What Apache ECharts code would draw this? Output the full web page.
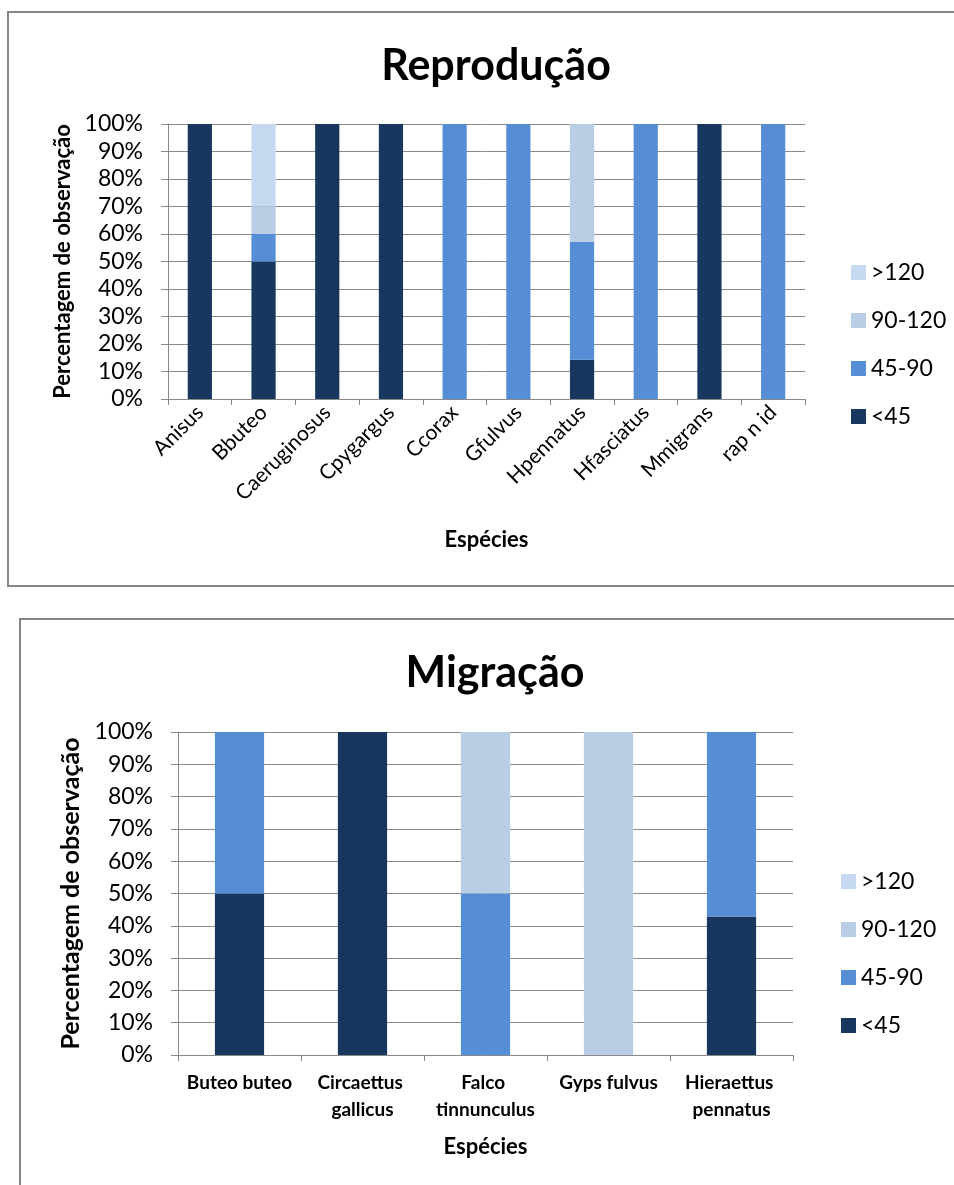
<!DOCTYPE html>
<html>
<head>
<meta charset="utf-8">
<script src="https://cdn.jsdelivr.net/npm/echarts@6/dist/echarts.min.js"></script>
<style>
  html, body { margin: 0; padding: 0; background: #ffffff; }
  #chart { width: 954px; height: 1185px; }
</style>
</head>
<body>
<div id="chart"></div>
<script>
// Breeding season (Reprodução): share of observations per flight-height class
const reproCategories = ['Anisus', 'Bbuteo', 'Caeruginosus', 'Cpygargus', 'Ccorax', 'Gfulvus', 'Hpennatus', 'Hfasciatus', 'Mmigrans', 'rap n id'];
const reproLt45     = [100, 50, 100, 100,   0,   0, 14.29,   0, 100,   0];
const repro45to90   = [  0, 10,   0,   0, 100, 100, 42.86, 100,   0, 100];
const repro90to120  = [  0, 10,   0,   0,   0,   0, 42.86,   0,   0,   0];
const reproGt120    = [  0, 30,   0,   0,   0,   0,  0,      0,   0,   0];

// Migration season (Migração)
const migCategories = ['Buteo buteo', 'Circaettus gallicus', 'Falco tinnunculus', 'Gyps fulvus', 'Hieraettus pennatus'];
const migLt45    = [50, 100,  0,   0, 42.86];
const mig45to90  = [50,   0, 50,   0, 57.14];
const mig90to120 = [ 0,   0, 50, 100,  0];
const migGt120   = [ 0,   0,  0,   0,  0];

const classNames = ['<45', '45-90', '90-120', '>120'];
const legendOrder = ['>120', '90-120', '45-90', '<45'];
const yTicks = { min: 0, max: 100, interval: 10 };

const FONT = 'Lato';
const colors = { '<45': '#17375E', '45-90': '#558ED5', '90-120': '#B9CDE5', '>120': '#C6D9F1' };
const gridGray = '#8a8a8a';

function yAxisCfg(gridIndex, nameSize, nameGap) {
  return {
    type: 'value', gridIndex: gridIndex,
    min: yTicks.min, max: yTicks.max, interval: yTicks.interval,
    name: 'Percentagem de observação',
    nameLocation: 'middle', nameRotate: 90, nameGap: nameGap,
    nameTextStyle: { fontFamily: FONT, fontWeight: 'bold', fontSize: nameSize, color: '#000' },
    axisLine: { show: true, lineStyle: { color: gridGray, width: 1 } },
    axisTick: { show: true, length: 7, lineStyle: { color: gridGray } },
    axisLabel: { formatter: '{value}%', fontFamily: FONT, fontSize: 23, color: '#000', margin: 25 },
    splitLine: { show: true, lineStyle: { color: gridGray, width: 1 } }
  };
}

function stackSeries(stackId, axisIndex, values, barWidth) {
  return classNames.map((n, i) => ({
    type: 'bar', name: n, stack: stackId,
    xAxisIndex: axisIndex, yAxisIndex: axisIndex,
    barWidth: barWidth,
    itemStyle: { color: colors[n] },
    data: values[i]
  }));
}

const chart = echarts.init(document.getElementById('chart'), null, { renderer: 'canvas' });

chart.setOption({
  animation: false,
  backgroundColor: '#ffffff',
  graphic: [
    { type: 'rect', shape: { x: 8, y: 12, width: 960, height: 574 }, style: { fill: 'none', stroke: '#868686', lineWidth: 2 }, z: -1 },
    { type: 'rect', shape: { x: 20, y: 619, width: 960, height: 600 }, style: { fill: 'none', stroke: '#868686', lineWidth: 2 }, z: -1 }
  ],
  title: [
    { text: 'Reprodução', left: 491, top: 40, textAlign: 'center',
      textStyle: { fontFamily: FONT, fontWeight: 'bold', fontSize: 43, color: '#000' } },
    { text: 'Migração', left: 490, top: 647, textAlign: 'center',
      textStyle: { fontFamily: FONT, fontWeight: 'bold', fontSize: 43, color: '#000' } }
  ],
  legend: [
    { data: legendOrder, orient: 'vertical', left: 846, top: 256, itemGap: 25,
      itemWidth: 15, itemHeight: 15, icon: 'rect', selectedMode: false,
      textStyle: { fontFamily: FONT, fontSize: 23, color: '#000' } },
    { data: legendOrder, orient: 'vertical', left: 836, top: 865, itemGap: 25,
      itemWidth: 15, itemHeight: 15, icon: 'rect', selectedMode: false,
      textStyle: { fontFamily: FONT, fontSize: 23, color: '#000' } }
  ],
  grid: [
    { left: 168, top: 124, width: 637, height: 275 },
    { left: 178, top: 732, width: 615, height: 323 }
  ],
  xAxis: [
    { type: 'category', gridIndex: 0, data: reproCategories,
      name: 'Espécies', nameLocation: 'middle', nameGap: 130,
      nameTextStyle: { fontFamily: FONT, fontWeight: 'bold', fontSize: 22, color: '#000' },
      axisLine: { lineStyle: { color: gridGray } },
      axisTick: { show: true, length: 6, lineStyle: { color: gridGray } },
      axisLabel: { rotate: 45, interval: 0, fontFamily: FONT, fontSize: 21, color: '#000', margin: 10 } },
    { type: 'category', gridIndex: 1, data: migCategories,
      name: 'Espécies', nameLocation: 'middle', nameGap: 81,
      nameTextStyle: { fontFamily: FONT, fontWeight: 'bold', fontSize: 22, color: '#000' },
      axisLine: { lineStyle: { color: gridGray } },
      axisTick: { show: true, length: 6, lineStyle: { color: gridGray } },
      axisLabel: { interval: 0, fontFamily: FONT, fontWeight: 'bold', fontSize: 19, color: '#000',
        margin: 14, width: 122, overflow: 'break', lineHeight: 27 } }
  ],
  yAxis: [yAxisCfg(0, 22, 94), yAxisCfg(1, 25, 93)],
  series: [
    ...stackSeries('repro', 0, [reproLt45, repro45to90, repro90to120, reproGt120], '38%'),
    ...stackSeries('mig', 1, [migLt45, mig45to90, mig90to120, migGt120], '40%')
  ]
});
</script>
</body>
</html>
